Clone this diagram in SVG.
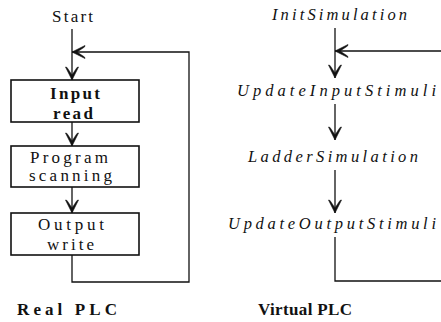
<svg xmlns="http://www.w3.org/2000/svg" width="441" height="322" viewBox="0 0 441 322">
<defs>
<style>
text{font-family:'Liberation Serif','Times New Roman',serif;fill:#111}
.t{font-size:17px}
.s{font-size:17px}
.b{font-weight:bold}
.i{font-style:italic;font-size:16.5px}
.h{font-size:17px;font-weight:bold}
.box{fill:#fff;stroke:#111;stroke-width:1.6}
.ln{fill:none;stroke:#111;stroke-width:1.3}
</style>
<marker id="ah" markerUnits="userSpaceOnUse" markerWidth="16" markerHeight="16" viewBox="-15 -8 16 16" refX="0" refY="0" orient="auto">
<path d="M0,0 L-13,-6.5 L-12.5,-5 L-5,0 L-12.5,5 L-13,6.5 Z" fill="#111" stroke="#111" stroke-width="0.6"/>
</marker>
</defs>
<g id="connectors">
<line class="ln" x1="72" y1="29" x2="72" y2="80" marker-end="url(#ah)"/>
<path class="ln" d="M72,255 V282 H189 V52 H72" marker-end="url(#ah)"/>
<line class="ln" x1="72" y1="122" x2="72" y2="146" marker-end="url(#ah)"/>
<line class="ln" x1="72" y1="187" x2="72" y2="213" marker-end="url(#ah)"/>
<line class="ln" x1="335" y1="28" x2="335" y2="78" marker-end="url(#ah)"/>
<line class="ln" x1="441" y1="51" x2="335" y2="51" marker-end="url(#ah)"/>
<line class="ln" x1="335" y1="104" x2="335" y2="140" marker-end="url(#ah)"/>
<line class="ln" x1="335" y1="170" x2="335" y2="213" marker-end="url(#ah)"/>
<path class="ln" d="M335,237 V281 H441"/>
</g>
<g id="start"><text class="s" x="52" y="22" textLength="41" lengthAdjust="spacing">Start</text></g>
<g id="input-read">
<rect class="box" x="11" y="80" width="128" height="42"/>
<text class="t b" x="50" y="99" textLength="50" lengthAdjust="spacing">Input</text>
<text class="t b" x="53" y="119" textLength="40" lengthAdjust="spacing">read</text>
</g>
<g id="program-scanning">
<rect class="box" x="11" y="146" width="128" height="41"/>
<text class="t" x="30" y="163" textLength="78" lengthAdjust="spacing">Program</text>
<text class="t" x="29" y="181" textLength="83" lengthAdjust="spacing">scanning</text>
</g>
<g id="output-write">
<rect class="box" x="11" y="213" width="128" height="42"/>
<text class="t" x="38" y="230" textLength="66" lengthAdjust="spacing">Output</text>
<text class="t" x="47" y="250" textLength="47" lengthAdjust="spacing">write</text>
</g>
<g id="real-plc"><text class="h" x="17" y="315" textLength="100" lengthAdjust="spacing">Real PLC</text></g>
<g id="init-simulation"><text class="i" x="272" y="20" textLength="135" lengthAdjust="spacing">InitSimulation</text></g>
<g id="update-input-stimuli"><text class="i" x="237" y="96" textLength="199" lengthAdjust="spacing">UpdateInputStimuli</text></g>
<g id="ladder-simulation"><text class="i" x="248" y="162" textLength="170" lengthAdjust="spacing">LadderSimulation</text></g>
<g id="update-output-stimuli"><text class="i" x="228" y="229" textLength="208" lengthAdjust="spacing">UpdateOutputStimuli</text></g>
<g id="virtual-plc"><text class="h" x="258" y="315" textLength="94" lengthAdjust="spacing">Virtual PLC</text></g>
</svg>
